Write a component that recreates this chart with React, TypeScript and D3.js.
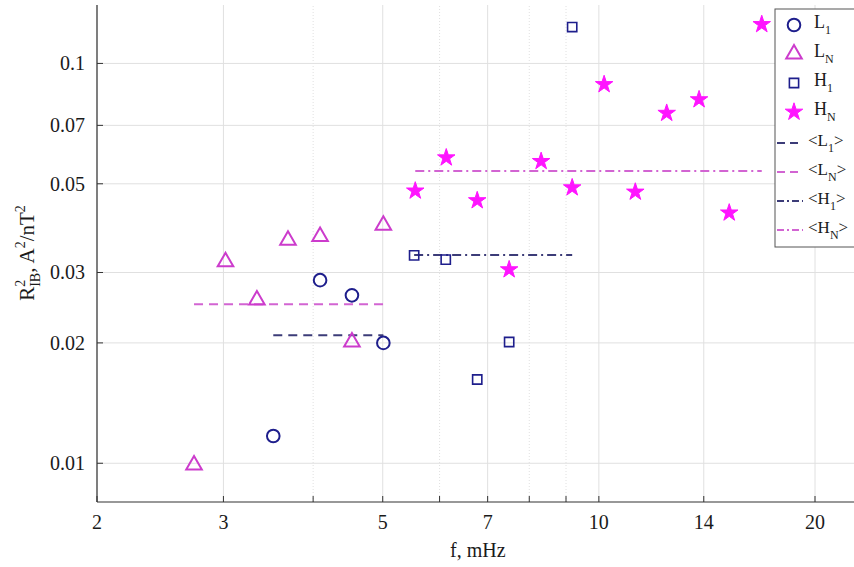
import React from "react";
import * as d3 from "d3";

const L1_f = [3.52, 4.09, 4.53, 5.01];
const L1_v = [0.0117, 0.0287, 0.0263, 0.02];
const LN_f = [2.73, 3.02, 3.34, 3.69, 4.09, 4.53, 5.01];
const LN_v = [0.0099, 0.0319, 0.0256, 0.0361, 0.0369, 0.0201, 0.0394];
const H1_f = [5.53, 6.12, 6.77, 7.5, 9.18];
const H1_v = [0.0331, 0.0323, 0.0162, 0.0201, 0.1233];
const HN_f = [5.55, 6.13, 6.77, 7.5, 8.31, 9.18, 10.17, 11.24, 12.43, 13.79, 15.19, 16.86];
const HN_v = [0.048, 0.0581, 0.0454, 0.0305, 0.0569, 0.0489, 0.0886, 0.0477, 0.0751, 0.0812, 0.0423, 0.1252];
const MEAN_L1 = 0.0209;
const MEAN_LN = 0.025;
const MEAN_H1 = 0.0332;
const MEAN_HN = 0.0538;

const X_TICKS = [2, 3, 5, 7, 10, 14, 20];
const X_MINOR = [4, 6, 8, 9];
const Y_TICKS = [0.01, 0.02, 0.03, 0.05, 0.07, 0.1];

const NAVY = "#1e1e8c";
const MAG = "#ff14ff";
const MAG_EDGE = "#cc3ccc";
const LINE_NAVY = "#3c3c78";
const LINE_MAG = "#d264d2";
const TXT = "#1a1a1a";
const FONT = "Liberation Serif, Times New Roman, serif";

const x = d3.scaleLog().domain([2, 23]).range([97, 97 + 718 * Math.log10(11.5)]);
const y = d3.scaleLog().domain([0.008, 0.14]).range([502, 5]);

const circlePath = d3.symbol(d3.symbolCircle, 125)()!;
const triPath = d3.symbol(d3.symbolTriangle, 105)()!;
const sqPath = d3.symbol(d3.symbolSquare, 85)()!;
const starPath = d3.symbol(d3.symbolStar, 95)()!;

function Sub({ base, sub, x0, y0 }: { base: string; sub: string; x0: number; y0: number }) {
  return (
    <text x={x0} y={y0} fontFamily={FONT} fontSize={18} fill={TXT}>
      {base}
      <tspan fontSize={12} dy={6}>{sub}</tspan>
    </text>
  );
}
function SubB({ base, sub, x0, y0 }: { base: string; sub: string; x0: number; y0: number }) {
  return (
    <text x={x0} y={y0} fontFamily={FONT} fontSize={17} fill={TXT}>
      {"<" + base}
      <tspan fontSize={12} dy={6}>{sub}</tspan>
      <tspan dy={-6}>{">"}</tspan>
    </text>
  );
}

export default function App() {
  const x0 = x.range()[0];
  const x1 = x.range()[1];
  const yb = y.range()[0];
  const yt = y.range()[1];
  const meanLine = (fs: number[], v: number) => (
    { x1: x(d3.min(fs)!), x2: x(d3.max(fs)!), y: y(v) }
  );
  const mL1 = meanLine(L1_f, MEAN_L1);
  const mLN = meanLine(LN_f, MEAN_LN);
  const mH1 = meanLine(H1_f, MEAN_H1);
  const mHN = meanLine(HN_f, MEAN_HN);
  const legendRows = [25, 54, 83, 112, 143, 172, 201, 230];
  const lx = 794;
  const tx = 808;
  return (
    <svg width={854} height={567} style={{ position: "absolute", left: 0, top: 0, background: "#fff" }}>
      <rect x={0} y={0} width={854} height={567} fill="#fff" />
      {/* grid */}
      {X_TICKS.map((t) => (
        <line key={"gx" + t} x1={x(t)} x2={x(t)} y1={yb} y2={yt} stroke="#e0e0e0" strokeWidth={1} />
      ))}
      {X_MINOR.map((t) => (
        <line key={"gm" + t} x1={x(t)} x2={x(t)} y1={yb} y2={yt} stroke="#e0e0e0" strokeWidth={1} strokeDasharray="1,2" />
      ))}
      {Y_TICKS.map((t) => (
        <line key={"gy" + t} x1={x0} x2={x1} y1={y(t)} y2={y(t)} stroke="#e0e0e0" strokeWidth={1} />
      ))}
      {/* mean lines */}
      <line x1={mLN.x1} x2={mLN.x2} y1={mLN.y} y2={mLN.y} stroke={LINE_MAG} strokeWidth={2} strokeDasharray="9,6" />
      <line x1={mL1.x1} x2={mL1.x2} y1={mL1.y} y2={mL1.y} stroke={LINE_NAVY} strokeWidth={2} strokeDasharray="9,6" />
      <line x1={mH1.x1} x2={mH1.x2} y1={mH1.y} y2={mH1.y} stroke={LINE_NAVY} strokeWidth={2} strokeDasharray="9,4,2,4" />
      <line x1={mHN.x1} x2={mHN.x2} y1={mHN.y} y2={mHN.y} stroke={LINE_MAG} strokeWidth={2} strokeDasharray="9,4,2,4" />
      {/* markers */}
      {L1_f.map((f, i) => (
        <path key={"l1" + i} d={circlePath} transform={`translate(${x(f)},${y(L1_v[i])})`} fill="none" stroke={NAVY} strokeWidth={2} />
      ))}
      {LN_f.map((f, i) => (
        <path key={"ln" + i} d={triPath} transform={`translate(${x(f)},${y(LN_v[i])})`} fill="none" stroke={MAG_EDGE} strokeWidth={2} />
      ))}
      {H1_f.map((f, i) => (
        <path key={"h1" + i} d={sqPath} transform={`translate(${x(f)},${y(H1_v[i])})`} fill="none" stroke={NAVY} strokeWidth={1.6} />
      ))}
      {HN_f.map((f, i) => (
        <path key={"hn" + i} d={starPath} transform={`translate(${x(f)},${y(HN_v[i])})`} fill={MAG} stroke={MAG} strokeWidth={1} />
      ))}
      {/* axes */}
      <line x1={x0} x2={x0} y1={yt} y2={yb} stroke="#333" strokeWidth={1.2} />
      <line x1={x0} x2={x1} y1={yb} y2={yb} stroke="#333" strokeWidth={1.2} />
      {[...X_TICKS, ...X_MINOR].map((t) => (
        <line key={"tx" + t} x1={x(t)} x2={x(t)} y1={yb} y2={yb - 6} stroke="#333" strokeWidth={1} />
      ))}
      {Y_TICKS.map((t) => (
        <line key={"ty" + t} x1={x0} x2={x0 + 6} y1={y(t)} y2={y(t)} stroke="#333" strokeWidth={1} />
      ))}
      {X_TICKS.map((t) => (
        <text key={"lx" + t} x={x(t)} y={529} textAnchor="middle" fontFamily={FONT} fontSize={20} fill={TXT}>
          {String(t)}
        </text>
      ))}
      {Y_TICKS.map((t) => (
        <text key={"ly" + t} x={85} y={y(t) + 7} textAnchor="end" fontFamily={FONT} fontSize={20} fill={TXT}>
          {String(t)}
        </text>
      ))}
      <text x={(x0 + x1) / 2} y={557} textAnchor="middle" fontFamily={FONT} fontSize={20} fill={TXT}>
        f, mHz
      </text>
      <text transform="translate(34,253) rotate(-90)" textAnchor="middle" fontFamily={FONT} fontSize={21} fill={TXT}>
        R<tspan fontSize={14} dy={-9}>2</tspan>
        <tspan fontSize={14} dy={15} dx={-7}>IB</tspan>
        <tspan dy={-6}>, A</tspan>
        <tspan fontSize={14} dy={-9}>2</tspan>
        <tspan dy={9}>/nT</tspan>
        <tspan fontSize={14} dy={-9}>2</tspan>
      </text>
      {/* legend */}
      <rect x={775} y={9} width={100} height={238} fill="#fff" stroke="#555" strokeWidth={1} />
      <path d={circlePath} transform={`translate(${lx},${legendRows[0]})`} fill="none" stroke={NAVY} strokeWidth={2} />
      <path d={triPath} transform={`translate(${lx},${legendRows[1]})`} fill="none" stroke={MAG_EDGE} strokeWidth={2} />
      <path d={sqPath} transform={`translate(${lx},${legendRows[2]})`} fill="none" stroke={NAVY} strokeWidth={1.6} />
      <path d={starPath} transform={`translate(${lx},${legendRows[3]})`} fill={MAG} stroke={MAG} strokeWidth={1} />
      <line x1={777} x2={803} y1={legendRows[4]} y2={legendRows[4]} stroke={LINE_NAVY} strokeWidth={2} strokeDasharray="8,5" />
      <line x1={777} x2={803} y1={legendRows[5]} y2={legendRows[5]} stroke={LINE_MAG} strokeWidth={2} strokeDasharray="8,5" />
      <line x1={777} x2={803} y1={legendRows[6]} y2={legendRows[6]} stroke={LINE_NAVY} strokeWidth={2} strokeDasharray="7,3,2,3" />
      <line x1={777} x2={803} y1={legendRows[7]} y2={legendRows[7]} stroke={LINE_MAG} strokeWidth={2} strokeDasharray="7,3,2,3" />
      <Sub base="L" sub="1" x0={tx + 6} y0={legendRows[0] + 3} />
      <Sub base="L" sub="N" x0={tx + 6} y0={legendRows[1] + 3} />
      <Sub base="H" sub="1" x0={tx + 6} y0={legendRows[2] + 3} />
      <Sub base="H" sub="N" x0={tx + 6} y0={legendRows[3] + 3} />
      <SubB base="L" sub="1" x0={tx} y0={legendRows[4] + 3} />
      <SubB base="L" sub="N" x0={tx} y0={legendRows[5] + 3} />
      <SubB base="H" sub="1" x0={tx} y0={legendRows[6] + 3} />
      <SubB base="H" sub="N" x0={tx} y0={legendRows[7] + 3} />
    </svg>
  );
}
